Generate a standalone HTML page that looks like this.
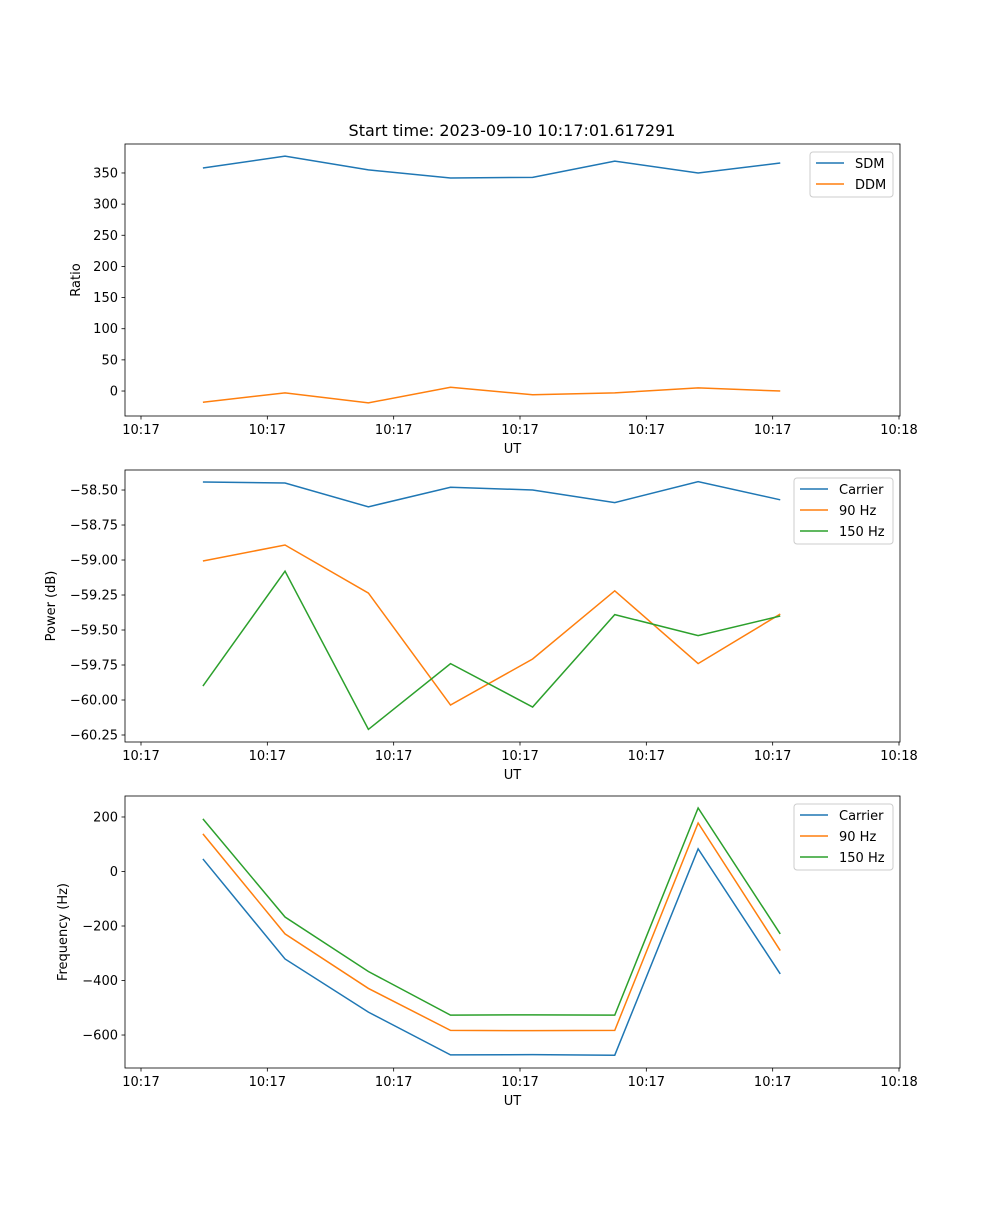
<!DOCTYPE html>
<html><head><meta charset="utf-8"><style>
body{margin:0;background:#fff}
svg text{font-family:"DejaVu Sans","Liberation Sans",sans-serif;fill:#000}
</style></head><body>
<svg id="fig" width="1000" height="1200" viewBox="0 0 1000 1200" xmlns="http://www.w3.org/2000/svg">
<rect width="1000" height="1200" fill="#fff"/>
<text x="512" y="136" font-size="16" text-anchor="middle">Start time: 2023-09-10 10:17:01.617291</text>
</svg>
<script>
// sample times in seconds after 10:17:00
const times = [4.9, 11.4, 18.0, 24.5, 31.0, 37.5, 44.1, 50.6];
const xTickVals = [0, 10, 20, 30, 40, 50, 60];
const xTickLabels = ["10:17","10:17","10:17","10:17","10:17","10:17","10:18"];
const sdm = [358, 377, 355, 342, 343, 369, 350, 366];
const ddm = [-18, -3, -19, 6, -6, -3, 5, 0];
const powCarrier = [-58.443, -58.45, -58.62, -58.48, -58.5, -58.59, -58.44, -58.57];
const pow90 = [-59.007, -58.893, -59.236, -60.036, -59.707, -59.22, -59.74, -59.386];
const pow150 = [-59.90, -59.08, -60.21, -59.74, -60.05, -59.39, -59.54, -59.40];
const freqCarrier = [46, -321, -516, -673, -672, -674, 83, -376];
const freq90 = [138, -229, -429, -583, -584, -583, 178, -290];
const freq150 = [193, -167, -367, -527, -526, -527, 233, -229];
const ratioTicks = [0, 50, 100, 150, 200, 250, 300, 350];
const powerTicks = [-60.25, -60.0, -59.75, -59.5, -59.25, -59.0, -58.75, -58.5];
const freqTicks = [-600, -400, -200, 0, 200];

const NS = "http://www.w3.org/2000/svg";
const svg = document.getElementById('fig');
function mk(tag, attrs, parent){const e=document.createElementNS(NS,tag);for(const k in attrs)e.setAttribute(k,attrs[k]);(parent||svg).appendChild(e);return e;}
const L=125,R=900;
const xScale = s => 141 + (s-0)*(899-141)/60;
const C=['#1f77b4','#ff7f0e','#2ca02c'];

function panel(name, top, bot, ymin, ymax, yTicks, fmt, ylabel, series, labels, legW){
  const g = mk('g',{});
  
  
  const y = v => bot - (v-ymin)/(ymax-ymin)*(bot-top);
  series.forEach((s,i)=>{
    const p = mk('polyline',{points:s.map((v,j)=>xScale(times[j])+','+y(v)).join(' '),fill:'none',stroke:C[i],'stroke-width':1.5},g);
    
    
  });
  const fr = mk('rect',{x:L,y:top,width:R-L,height:bot-top,fill:'none',stroke:'#000','stroke-width':0.8},g);
  
  
  xTickVals.forEach((t,i)=>{
    const xx=xScale(t);
    mk('line',{x1:xx,x2:xx,y1:bot,y2:bot+3.5,stroke:'#000','stroke-width':0.8},g);
    const tx=mk('text',{x:xx,y:bot+18,'font-size':13,'text-anchor':'middle'},g);
    tx.textContent=xTickLabels[i];
    
    
  });
  yTicks.forEach(t=>{
    const yy=y(t);
    mk('line',{x1:L-3.5,x2:L,y1:yy,y2:yy,stroke:'#000','stroke-width':0.8},g);
    const tx=mk('text',{x:L-7,y:yy+4.5,'font-size':13,'text-anchor':'end'},g);
    tx.textContent=fmt(t);
    
    
  });
  const xl=mk('text',{x:(L+R)/2,y:bot+37,'font-size':13,'text-anchor':'middle'},g);
  xl.textContent='UT';
  
  
  const ylx = name==='ratio-panel'?80:(name==='power-panel'?55:67);
  const yl=mk('text',{x:ylx,y:(top+bot)/2,'font-size':13,'text-anchor':'middle',transform:`rotate(-90 ${ylx} ${(top+bot)/2})`},g);
  yl.textContent=ylabel;
  
  
  const lx=R-7-legW, ly=top+8, lh=3+labels.length*21;
  const lg=mk('g',{},g);
  
  
  mk('rect',{x:lx,y:ly,width:legW,height:lh,rx:3,fill:'#fff','fill-opacity':0.8,stroke:'#ccc','stroke-width':1},lg);
  labels.forEach((lab,i)=>{
    const yy=ly+11+i*21;
    mk('line',{x1:lx+6,x2:lx+34,y1:yy,y2:yy,stroke:C[i],'stroke-width':1.5},lg);
    const t=mk('text',{x:lx+45,y:yy+5,'font-size':13},lg);
    t.textContent=lab;
    
    
  });
}
panel('ratio-panel',144,416,-40.1,396.5,ratioTicks,v=>String(v),'Ratio',[sdm,ddm],['SDM','DDM'],83);
panel('power-panel',470,742,-60.30,-58.357,powerTicks,v=>'\u2212'+Math.abs(v).toFixed(2),'Power (dB)',[powCarrier,pow90,pow150],['Carrier','90 Hz','150 Hz'],99);
panel('frequency-panel',796,1068,-721,277,freqTicks,v=>(v<0?'\u2212':'')+Math.abs(v),'Frequency (Hz)',[freqCarrier,freq90,freq150],['Carrier','90 Hz','150 Hz'],99);
</script>
</body></html>
